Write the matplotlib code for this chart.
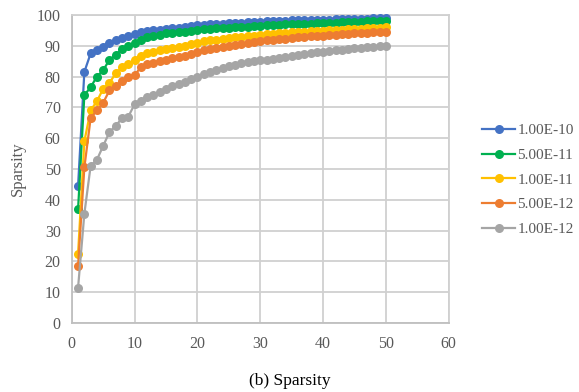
import matplotlib
matplotlib.use("Agg")
import matplotlib.pyplot as plt

plt.rcParams['font.family'] = ['Liberation Serif', 'DejaVu Serif']

steps = list(range(1, 51))

labels = ["1.00E-10", "5.00E-11", "1.00E-11", "5.00E-12", "1.00E-12"]
colors = ["#4472C4", "#00B050", "#FFC000", "#ED7D31", "#A5A5A5"]

s_1e10 = [44.5, 81.5, 87.5, 88.5, 89.5, 91, 92, 92.5, 93, 93.8,
          94.3, 94.8, 95, 95.2, 95.5, 95.7, 95.9, 96.1, 96.3, 96.6,
          96.8, 97, 97.1, 97.2, 97.3, 97.4, 97.5, 97.6, 97.7, 97.8,
          97.9, 98, 98, 98.1, 98.2, 98.2, 98.3, 98.4, 98.4, 98.5,
          98.5, 98.6, 98.6, 98.7, 98.7, 98.8, 98.8, 98.9, 98.9, 99]
s_5e11 = [37, 74, 76.5, 80, 82, 85.5, 87, 89, 90, 91,
          92, 92.8, 93.2, 93.6, 94, 94.2, 94.4, 94.6, 94.8, 95.1,
          95.3, 95.5, 95.6, 95.8, 95.9, 96, 96.1, 96.2, 96.3, 96.5,
          96.6, 96.7, 96.8, 96.9, 97, 97.1, 97.2, 97.2, 97.3, 97.4,
          97.5, 97.5, 97.6, 97.7, 97.7, 97.8, 97.9, 97.9, 98, 98]
s_1e11 = [22.5, 59, 69, 72, 76, 78, 81, 83, 84, 85.5,
          86.5, 87.5, 88, 88.5, 89, 89.3, 89.6, 90, 90.4, 91,
          91.4, 91.7, 92, 92.3, 92.5, 92.7, 92.9, 93.1, 93.3, 93.5,
          93.7, 93.9, 94, 94.1, 94.3, 94.4, 94.5, 94.7, 94.8, 94.9,
          95, 95.1, 95.2, 95.3, 95.4, 95.5, 95.6, 95.7, 95.8, 96]
s_5e12 = [18.5, 50.5, 66.5, 69, 71.5, 75.5, 77, 78.5, 80, 80.5,
          83, 84, 84.5, 85, 85.5, 86, 86.3, 86.6, 87.2, 88,
          88.5, 89, 89.3, 89.6, 90, 90.3, 90.6, 90.9, 91.2, 91.5,
          91.7, 91.9, 92.1, 92.3, 92.5, 92.7, 92.8, 93, 93.1, 93.3,
          93.4, 93.6, 93.7, 93.8, 94, 94.1, 94.2, 94.3, 94.4, 94.6]
s_1e12 = [11.5, 35.5, 51, 53, 57.5, 62, 64, 66.5, 67, 71,
          72, 73.2, 74, 75, 76, 77, 77.5, 78.3, 79.3, 80,
          80.8, 81.6, 82.2, 82.8, 83.3, 83.8, 84.3, 84.6, 84.9, 85.2,
          85.5, 85.8, 86.1, 86.4, 86.7, 87, 87.3, 87.6, 87.9, 88.1,
          88.3, 88.5, 88.7, 88.9, 89.1, 89.3, 89.5, 89.7, 89.8, 90]
series = [s_1e10, s_5e11, s_1e11, s_5e12, s_1e12]

xticks = [0, 10, 20, 30, 40, 50, 60]
yticks = list(range(0, 101, 10))

fig = plt.figure(figsize=(5.79, 3.92), dpi=100)
ax = fig.add_axes([0.124, 0.176, 0.651, 0.786])

handles = []
for vals, lab, col in zip(series, labels, colors):
    h, = ax.plot(steps, vals, color=col, lw=1.6, marker='o', markersize=6.5,
                 markeredgewidth=0, label=lab, clip_on=False, zorder=3)
    handles.append(h)

ax.set_xlim(0, 60)
ax.set_ylim(0, 100)
ax.set_xticks(xticks)
ax.set_yticks(yticks)
ax.grid(True, color='#D0D0D0', lw=1.3)
ax.set_axisbelow(True)
for sp in ax.spines.values():
    sp.set_color('#D0D0D0')
    sp.set_linewidth(1.3)
ax.spines['left'].set_color('#BFBFBF')
ax.spines['bottom'].set_color('#BFBFBF')
ax.tick_params(length=0, labelsize=11.5, colors='#595959')
ax.tick_params(axis='x', pad=9)
ax.tick_params(axis='y', pad=8)
ax.set_ylabel("Sparsity", fontsize=12, color='#595959', labelpad=8)

fig.legend(handles=handles, labels=labels, loc='center left',
           bbox_to_anchor=(0.832, 0.541), frameon=False, fontsize=11,
           handlelength=2.2, labelspacing=0.72, handletextpad=0.12,
           borderpad=0, borderaxespad=0, labelcolor='#595959')

fig.text(0.5, 0.028, "(b) Sparsity", ha='center', va='center', fontsize=12.5,
         color='black')

fig.savefig("out.png", dpi=100)
